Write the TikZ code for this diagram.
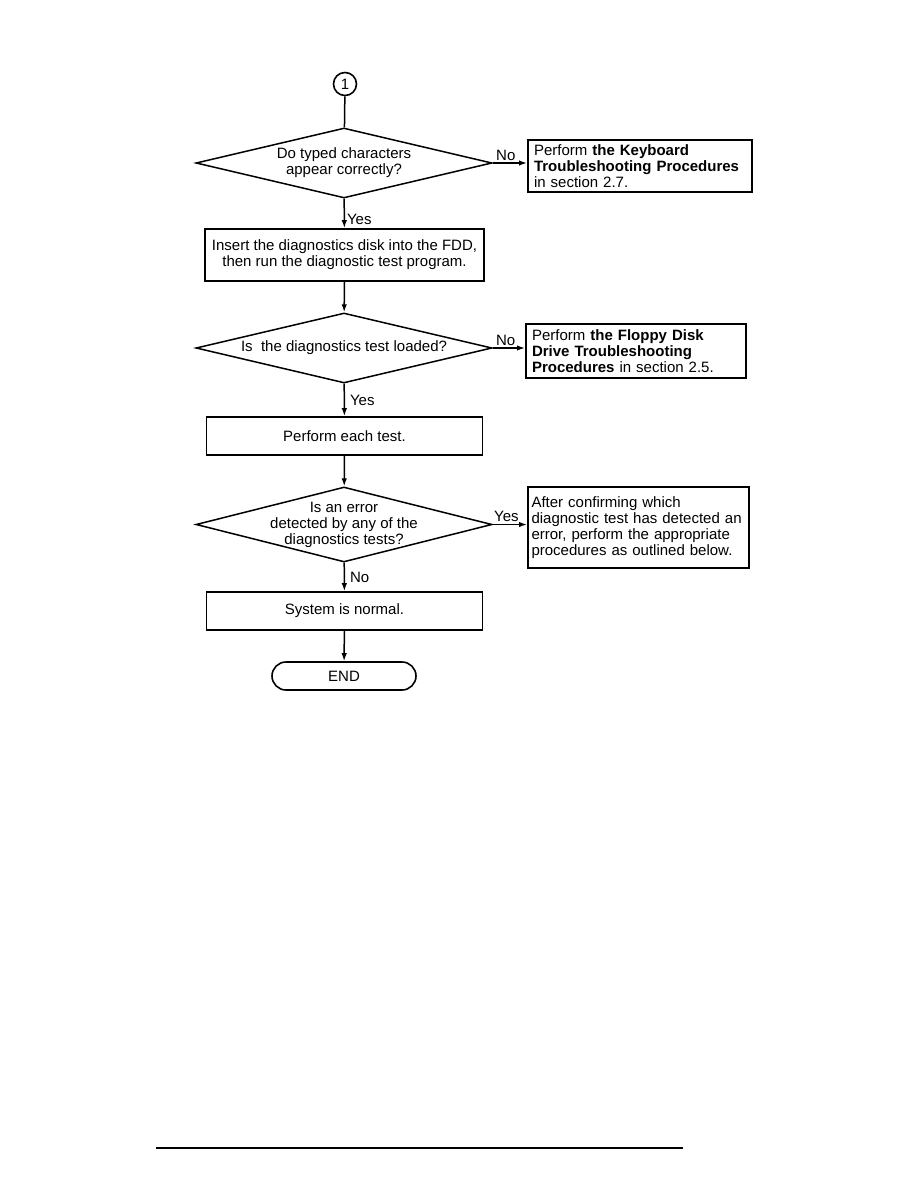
\documentclass[tikz,border=0pt]{standalone}
\usepackage{fontspec}
\setmainfont{Liberation Sans}
\usetikzlibrary{arrows.meta,positioning,shapes.geometric}

\begin{document}
\begin{tikzpicture}[>={Latex[length=8pt,width=5.5pt]},x=1pt,y=-1pt,font=\fontsize{15}{15.9}\selectfont,
  decision/.style={draw,line width=1.5pt,diamond,aspect=4.2,minimum width=296pt,minimum height=70pt,inner sep=-2pt,align=center},
  stepbox/.style={draw,line width=1.7pt,minimum width=276pt,minimum height=38pt,align=center},
  refbox/.style={draw,line width=2pt,inner xsep=6pt,inner ysep=3pt,align=left,anchor=west},
  flow/.style={->,line width=1.5pt}]
\useasboundingbox (0,0) rectangle (918,1188);
\node[draw,circle,line width=1.6pt,minimum size=23pt,inner sep=0pt] (start) at (345,84) {1};
\node[decision] (d1) at (344,163) {Do typed characters\\appear correctly?};
\node[refbox,text width=212pt,minimum height=52pt] (kbd) at (527,166) {Perform \textbf{the Keyboard}\\\textbf{Troubleshooting Procedures}\\in section 2.7.};
\node[stepbox,minimum width=279pt,minimum height=52pt] (disk) at (344.5,255) {Insert the diagnostics disk into the FDD,\\ then run the diagnostic test program.};
\node[decision] (d2) at (344,348) {Is\ \ the diagnostics test loaded?};
\node[refbox,text width=208pt,minimum height=54pt] (fdd) at (525,351) {Perform \textbf{the Floppy Disk}\\\textbf{Drive Troubleshooting}\\\textbf{Procedures} in section 2.5.};
\node[stepbox] (tests) at (344.5,436) {Perform each test.};
\node[decision,minimum height=75pt,inner sep=-7pt] (d3) at (344,524.5) {Is an error\\detected by any of the\\diagnostics tests?};
\node[refbox,text width=214pt,inner xsep=3.5pt,minimum height=81pt] (err) at (527,527.5) {After confirming which\\diagnostic test has detected an\\error, perform the appropriate\\procedures as outlined below.};
\node[stepbox] (normal) at (344.5,611) {System is normal.};
\node[draw,rounded corners=14pt,line width=1.6pt,minimum width=144pt,minimum height=28pt] (finish) at (344,676) {END};
\draw[line width=1.5pt] (start) -- (d1);
\draw[flow] (d1) -- node[pos=0.72,right,inner sep=2pt]{Yes} (disk);
\draw[flow] (d1.east) -- node[pos=0.38,above,inner sep=2pt]{No} (d1.east -| kbd.west);
\draw[flow] (disk) -- (d2);
\draw[flow] (d2) -- node[midway,right,inner sep=5pt]{Yes} (tests);
\draw[flow] (d2.east) -- node[pos=0.4,above,inner sep=2pt]{No} (d2.east -| fdd.west);
\draw[flow] (tests) -- (d3);
\draw[flow] (d3) -- node[midway,right,inner sep=5pt]{No} (normal);
\draw[flow] (d3.east) -- node[pos=0.4,above,inner sep=2pt]{Yes} (d3.east -| err.west);
\draw[flow] (normal) -- (finish);
\draw[line width=1.5pt] (156,1148) -- (683,1148);
\end{tikzpicture}
\end{document}
